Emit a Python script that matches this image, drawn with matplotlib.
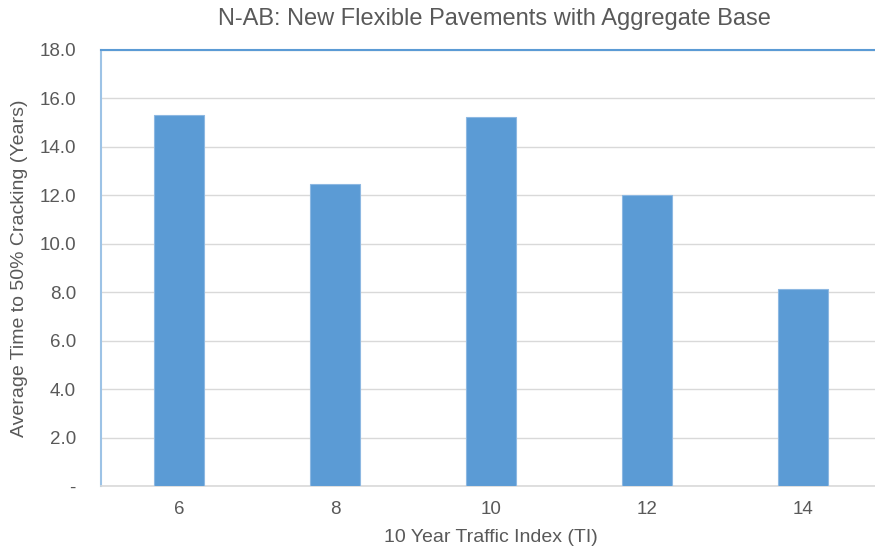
import matplotlib
matplotlib.use("Agg")
import matplotlib.pyplot as plt
from matplotlib.ticker import FuncFormatter

# Data
traffic_index = ["6", "8", "10", "12", "14"]
years_to_50pct = [15.3, 12.45, 15.25, 12.0, 8.15]
y_ticks = [0, 2, 4, 6, 8, 10, 12, 14, 16, 18]

plt.rcParams["font.family"] = ["Liberation Sans", "DejaVu Sans"]

BAR = "#5B9BD5"
TEXT = "#595959"
GRID = "#D9D9D9"

fig = plt.figure(figsize=(8.75, 5.5), dpi=100)
ax = fig.add_axes([101 / 875, 1 - 486 / 550, 780 / 875, 436 / 550])

x = list(range(len(traffic_index)))
ax.bar(x, years_to_50pct, width=0.315, color=BAR, edgecolor="#8DB8E2",
       linewidth=0.8, zorder=3)

ax.set_xlim(-0.5, len(traffic_index) - 0.5)
ax.set_ylim(0, 18)
ax.set_yticks(y_ticks)
ax.yaxis.set_major_formatter(FuncFormatter(lambda v, p: "-" if v == 0 else f"{v:.1f}"))
ax.set_xticks(x)
ax.set_xticklabels(traffic_index)

ax.grid(axis="y", color=GRID, linewidth=1.0, zorder=0)
ax.tick_params(axis="both", length=0, labelsize=13.5, colors=TEXT)
ax.tick_params(axis="y", pad=18)
ax.tick_params(axis="x", pad=11)

ax.spines["left"].set_color("#9DC3E6")
ax.spines["left"].set_linewidth(1.5)
ax.spines["top"].set_color(BAR)
ax.spines["top"].set_linewidth(1.5)
ax.spines["right"].set_visible(False)
ax.spines["bottom"].set_color(GRID)
ax.spines["bottom"].set_linewidth(1.2)

ax.set_xlabel("10 Year Traffic Index (TI)", fontsize=14, color=TEXT, labelpad=8)
ax.set_ylabel("Average Time to 50% Cracking (Years)", fontsize=14, color=TEXT, labelpad=8)
fig.text(0.565, 1 - 19 / 550, "N-AB: New Flexible Pavements with Aggregate Base",
         ha="center", va="center", fontsize=17, color=TEXT)

fig.savefig("out.png", dpi=100)
